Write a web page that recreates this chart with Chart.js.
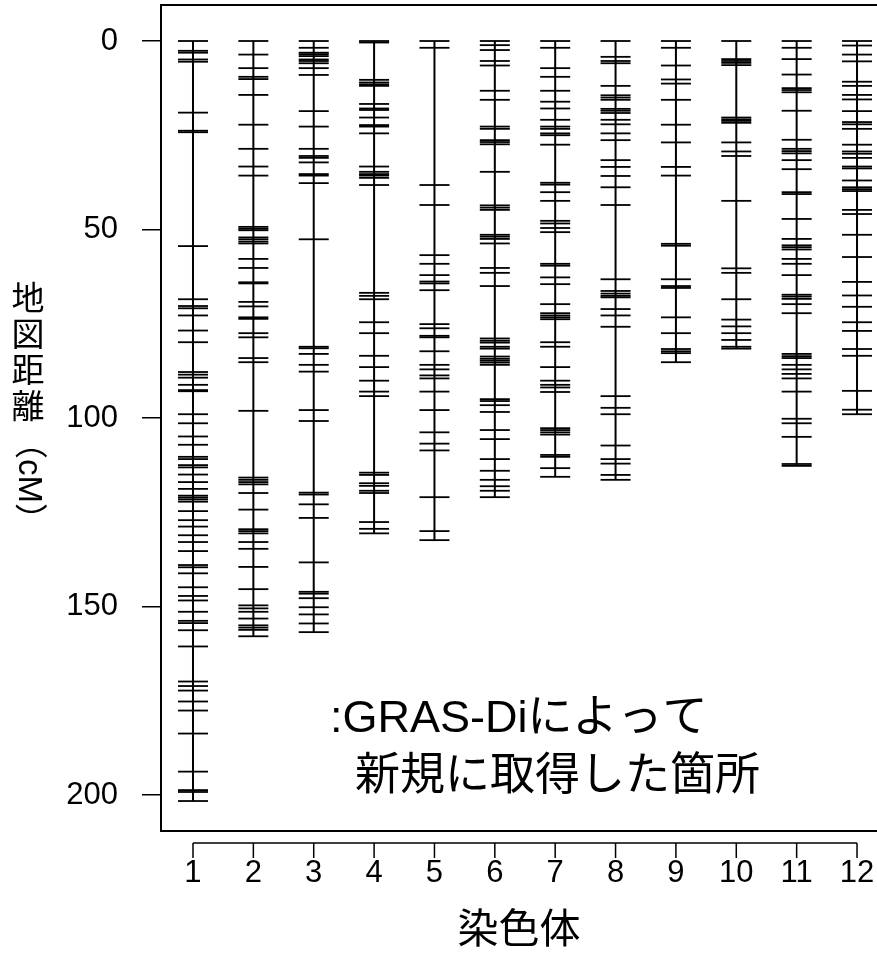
<!DOCTYPE html>
<html>
<head>
<meta charset="utf-8">
<script src="https://cdn.jsdelivr.net/npm/chart.js@4.4.1/dist/chart.umd.min.js"></script>
<style>
  html, body { margin: 0; padding: 0; background: #fff; overflow: hidden; }
  #wrap { position: relative; width: 877px; height: 972px; }
</style>
</head>
<body>
<div id="wrap"><canvas id="c" width="877" height="972"></canvas></div>
<script>
// ---- data (cM positions of markers per chromosome) ----
const chromosomes = [1, 2, 3, 4, 5, 6, 7, 8, 9, 10, 11, 12];
const chr1 = [0, 2.6, 3.1, 4.9, 5.5, 19.0, 23.8, 24.2, 54.4, 68.5, 70.3, 70.9, 72.8, 76.8, 79.9, 87.8, 88.5, 89.3, 91.2, 92.6, 92.9, 99.0, 101.4, 104.9, 107.1, 110.3, 110.9, 112.5, 113.1, 115.0, 117.0, 118.8, 120.6, 121.1, 121.6, 122.2, 124.7, 127.1, 128.8, 131.1, 132.9, 135.3, 139.0, 139.6, 141.2, 144.9, 147.2, 148.4, 151.4, 153.8, 154.4, 156.3, 160.6, 169.9, 171.1, 172.3, 175.2, 177.6, 183.7, 193.8, 198.7, 199.2, 201.6];
const chr2 = [0, 3.6, 7.2, 9.5, 10.1, 14.3, 22.2, 28.6, 33.3, 35.7, 49.3, 49.8, 50.2, 52.1, 52.6, 53.2, 53.7, 57.8, 60.2, 64.0, 64.3, 69.2, 70.4, 73.3, 73.7, 77.5, 78.6, 84.1, 85.2, 98.1, 115.8, 116.4, 117.0, 117.6, 119.9, 124.3, 129.5, 130.0, 130.6, 132.9, 134.7, 139.5, 145.4, 149.7, 150.5, 151.4, 153.2, 155.0, 155.6, 156.2, 157.9];
const chr3 = [0, 1.8, 3.1, 3.5, 4.0, 4.9, 5.3, 5.9, 7.2, 9.0, 18.6, 22.7, 28.6, 30.5, 31.0, 32.2, 35.3, 35.7, 37.7, 52.6, 81.1, 81.5, 83.0, 85.9, 87.7, 97.9, 100.8, 119.8, 120.3, 122.9, 126.5, 138.3, 146.1, 146.6, 147.8, 150.2, 152.1, 154.5, 156.8];
const chr4 = [0, 0.4, 10.3, 11.0, 11.5, 11.9, 16.7, 17.9, 18.3, 20.3, 22.3, 22.7, 24.5, 33.3, 34.7, 35.3, 35.7, 36.3, 38.2, 66.8, 67.6, 68.5, 74.6, 77.5, 83.5, 86.5, 90.1, 93.0, 94.2, 114.5, 115.1, 117.3, 118.0, 119.3, 119.9, 127.6, 129.4, 130.6];
const chr5 = [0, 1.8, 38.2, 43.5, 56.8, 59.1, 62.1, 63.8, 64.3, 66.1, 75.1, 76.2, 78.2, 78.6, 82.3, 85.9, 87.1, 88.7, 89.5, 93.0, 97.9, 103.8, 106.8, 108.6, 121.0, 130.0, 132.4];
const chr6 = [0, 1.1, 2.4, 5.3, 6.5, 13.2, 15.6, 22.7, 23.3, 26.3, 26.8, 27.4, 34.7, 43.6, 44.2, 44.8, 51.4, 51.9, 52.5, 53.7, 60.2, 61.5, 65.0, 78.9, 79.5, 80.0, 81.1, 81.6, 83.7, 84.3, 84.8, 85.3, 85.9, 95.0, 95.5, 96.6, 98.4, 103.2, 105.6, 110.9, 114.0, 116.4, 118.1, 119.3, 121.0];
const chr7 = [0, 1.8, 7.2, 9.5, 13.2, 16.1, 17.9, 20.9, 22.7, 23.3, 24.5, 25.0, 27.5, 37.6, 38.1, 40.1, 42.4, 47.7, 48.4, 49.6, 50.7, 59.1, 59.6, 62.7, 64.5, 69.8, 72.2, 72.8, 73.3, 73.8, 79.9, 81.1, 86.5, 90.1, 91.2, 91.9, 93.1, 102.7, 103.2, 103.8, 104.4, 109.8, 110.3, 113.3, 115.6];
const chr8 = [0, 4.2, 5.3, 5.9, 11.9, 14.4, 15.0, 15.6, 18.0, 18.5, 19.1, 20.9, 22.1, 24.5, 26.3, 31.6, 33.4, 35.8, 38.8, 43.5, 63.2, 66.3, 67.0, 67.6, 68.0, 71.1, 72.8, 75.8, 94.2, 97.3, 99.0, 107.3, 110.9, 112.1, 115.1, 116.4];
const chr9 = [0, 1.8, 6.5, 10.2, 11.3, 15.6, 22.2, 26.9, 33.4, 35.7, 53.8, 54.3, 63.2, 65.0, 65.5, 73.3, 77.5, 81.7, 82.3, 82.8, 85.2];
const chr10 = [0, 4.8, 5.3, 5.8, 6.4, 20.3, 20.8, 21.2, 21.7, 26.9, 29.3, 30.5, 42.4, 60.3, 61.5, 68.5, 73.9, 75.7, 77.5, 79.3, 81.1, 81.6];
const chr11 = [0, 1.8, 4.8, 8.9, 12.5, 13.0, 13.6, 18.5, 26.2, 28.6, 29.2, 29.8, 31.6, 34.0, 40.1, 40.6, 47.2, 52.5, 54.2, 54.7, 55.3, 57.8, 59.1, 62.1, 67.3, 67.8, 68.4, 69.8, 72.2, 83.0, 83.6, 84.1, 85.9, 87.1, 88.3, 89.5, 93.0, 100.2, 101.4, 105.0, 112.2, 112.7];
const chr12 = [0, 1.2, 3.6, 5.4, 10.8, 11.9, 14.3, 15.5, 18.6, 21.5, 22.1, 23.3, 27.5, 29.3, 29.9, 31.0, 33.3, 33.8, 37.0, 38.8, 39.3, 39.8, 44.8, 45.9, 51.4, 57.3, 63.9, 67.5, 70.5, 74.6, 76.9, 81.7, 83.5, 92.8, 97.8, 99.0];
const markers = [chr1, chr2, chr3, chr4, chr5, chr6, chr7, chr8, chr9, chr10, chr11, chr12];
const yTickValues = [0, 50, 100, 150, 200];
const xTitle = '染色体';
const yTitleChars = ['地', '図', '距', '離'];
const yTitleTail = '（cM）';
const noteLines = [':GRAS-Diによって', '新規に取得した箇所'];

// ---- datasets ----
const datasets = [];
chromosomes.forEach((c, i) => {
  const pos = markers[i];
  const len = Math.max(...pos);
  datasets.push({
    type: 'line',
    data: [{x: c, y: 0}, {x: c, y: len}],
    borderColor: '#000',
    borderWidth: 2,
    pointRadius: 0,
    fill: false,
    order: 2
  });
  datasets.push({
    type: 'scatter',
    data: pos.map(v => ({x: c, y: v})),
    pointStyle: 'line',
    pointRadius: 15,
    pointHoverRadius: 15,
    borderColor: '#000',
    backgroundColor: '#000',
    pointBorderWidth: 1.8,
    borderWidth: 1.8,
    order: 1
  });
});

const LATIN = '"Liberation Sans", Arial, sans-serif';
const MIXED = '"Liberation Sans", "Noto Sans CJK JP", sans-serif';

const decor = {
  id: 'decor',
  afterDraw(chart) {
    const ctx = chart.ctx;
    const a = chart.chartArea;
    ctx.save();
    // box
    ctx.strokeStyle = '#000';
    ctx.lineWidth = 2;
    ctx.beginPath();
    ctx.moveTo(a.right + 20, a.top);
    ctx.lineTo(a.left, a.top);
    ctx.lineTo(a.left, a.bottom);
    ctx.lineTo(a.right + 20, a.bottom);
    ctx.stroke();
    // x axis line (R style, from first to last tick)
    const xs = chart.scales.x;
    const ax = 843;
    ctx.lineWidth = 1.5;
    ctx.beginPath();
    ctx.moveTo(xs.getPixelForValue(chromosomes[0]), ax);
    ctx.lineTo(xs.getPixelForValue(chromosomes[chromosomes.length - 1]), ax);
    chromosomes.forEach(c => {
      const px = xs.getPixelForValue(c);
      ctx.moveTo(px, ax);
      ctx.lineTo(px, ax + 15);
    });
    ctx.stroke();
    // y title (vertical writing)
    ctx.fillStyle = '#000';
    ctx.font = '33px ' + MIXED;
    ctx.textAlign = 'center';
    ctx.textBaseline = 'middle';
    let y = 301;
    yTitleChars.forEach(ch => { ctx.fillText(ch, 28, y); y += 36; });
    ctx.save();
    ctx.translate(28, y - 19);
    ctx.rotate(Math.PI / 2);
    ctx.textAlign = 'left';
    ctx.fillText(yTitleTail, 0, 0);
    ctx.restore();
    // note text
    ctx.font = '45px ' + MIXED;
    ctx.textAlign = 'left';
    ctx.textBaseline = 'middle';
    ctx.fillText(noteLines[0], 330, 720);
    ctx.fillText(noteLines[1], 355, 778);
    ctx.restore();
  }
};

new Chart(document.getElementById('c'), {
  type: 'scatter',
  data: { datasets },
  options: {
    responsive: false,
    animation: false,
    events: [],
    layout: { autoPadding: false, padding: { left: 0, top: 5, right: 0, bottom: 0 } },
    plugins: { legend: { display: false }, tooltip: { enabled: false } },
    scales: {
      x: {
        type: 'linear',
        min: 0.47,
        max: 12.331,
        afterFit(s) { s.height = 141; s.paddingLeft = 0; s.paddingRight = 0; },
        afterBuildTicks(s) { s.ticks = chromosomes.map(v => ({ value: v })); },
        grid: { display: false, drawOnChartArea: false, drawTicks: false },
        border: { display: false },
        ticks: {
          color: '#000',
          font: { family: LATIN, size: 31 },
          padding: 24,
          maxRotation: 0,
          autoSkip: false,
          callback: v => String(v)
        },
        title: {
          display: true,
          text: xTitle,
          color: '#000',
          font: { family: MIXED, size: 41 },
          padding: { top: 0, bottom: 16 }
        }
      },
      y: {
        type: 'linear',
        reverse: true,
        min: -9.55,
        max: 209.55,
        afterFit(s) { s.width = 161; s.paddingTop = 0; s.paddingBottom = 0; },
        afterBuildTicks(s) { s.ticks = yTickValues.map(v => ({ value: v })); },
        grid: { drawOnChartArea: false, drawTicks: true, tickLength: 19, color: '#000', lineWidth: 1.5 },
        border: { display: false },
        ticks: {
          color: '#000',
          font: { family: LATIN, size: 31 },
          padding: 24,
          autoSkip: false,
          callback: v => String(v)
        }
      }
    }
  },
  plugins: [decor]
});
</script>
</body>
</html>
